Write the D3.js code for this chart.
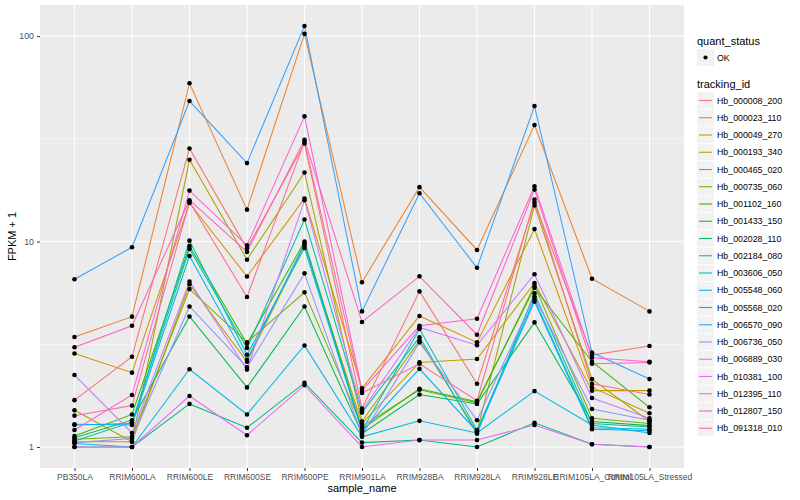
<!DOCTYPE html>
<html>
<head>
<meta charset="utf-8">
<script src="https://cdn.jsdelivr.net/npm/d3@7"></script>
<style>
  body { margin: 0; background: #fff; }
  text { font-family: "Liberation Sans", Arial, sans-serif; }
</style>
</head>
<body>
<div id="chart-area"></div>
<script>
// samples on the x axis
const samples = ["PB350LA", "RRIM600LA", "RRIM600LE", "RRIM600SE", "RRIM600PE", "RRIM901LA",
  "RRIM928BA", "RRIM928LA", "RRIM928LE", "RRIM105LA_Control", "RRIM105LA_Stressed"]

const trackingIds = ["Hb_000008_200", "Hb_000023_110", "Hb_000049_270", "Hb_000193_340", "Hb_000465_020",
  "Hb_000735_060", "Hb_001102_160", "Hb_001433_150", "Hb_002028_110", "Hb_002184_080",
  "Hb_003606_050", "Hb_005548_060", "Hb_005568_020", "Hb_006570_090", "Hb_006736_050",
  "Hb_006889_030", "Hb_010381_100", "Hb_012395_110", "Hb_012807_150", "Hb_091318_010"]

// FPKM + 1, one row per tracking id, in sample order
const fpkm = [
  [1.69, 2.75, 28.4, 9.24, 30.0, 1.54, 5.72, 2.03, 15.5, 2.80, 3.10],
  [3.43, 4.31, 59.0, 14.3, 102.6, 6.34, 18.4, 9.1, 36.9, 6.59, 4.57],
  [2.85, 2.30, 15.4, 6.76, 16.2, 1.93, 4.34, 3.23, 11.5, 1.95, 1.46],
  [1.06, 1.06, 6.2, 2.60, 9.6, 1.30, 2.58, 2.68, 6.28, 1.88, 1.88],
  [1.51, 1.06, 25.0, 8.16, 21.7, 1.33, 3.30, 1.19, 15.0, 2.14, 1.33],
  [1.09, 1.12, 5.87, 3.23, 5.66, 1.26, 1.90, 1.64, 6.1, 1.38, 1.30],
  [1.13, 1.44, 9.5, 3.18, 10.0, 1.22, 1.92, 1.66, 5.95, 2.60, 1.56],
  [1.11, 1.35, 4.32, 1.95, 4.83, 1.16, 1.80, 1.62, 4.04, 1.33, 1.27],
  [1.0, 1.0, 1.62, 1.24, 2.05, 1.05, 1.08, 1.0, 1.31, 1.03, 1.0],
  [1.07, 1.32, 9.2, 3.03, 12.8, 1.47, 3.42, 1.16, 5.6, 1.30, 1.25],
  [1.28, 1.30, 10.1, 2.81, 9.3, 1.20, 3.75, 1.21, 5.25, 1.24, 1.22],
  [1.04, 1.0, 2.39, 1.44, 3.12, 1.12, 1.34, 1.17, 1.87, 1.28, 1.17],
  [1.29, 1.28, 8.5, 2.66, 9.8, 1.19, 2.40, 1.19, 5.1, 1.22, 1.20],
  [6.55, 9.38, 48.3, 24.1, 112, 4.57, 17.2, 7.45, 45.7, 2.88, 2.14],
  [1.05, 1.10, 4.83, 2.44, 7.0, 1.14, 3.23, 1.35, 5.4, 1.53, 1.35],
  [2.24, 1.17, 6.38, 2.38, 15.9, 1.50, 3.82, 3.13, 6.93, 1.73, 1.38],
  [1.0, 1.0, 1.77, 1.14, 2.0, 1.0, 1.08, 1.08, 1.28, 1.03, 1.0],
  [1.21, 1.79, 17.7, 9.58, 40.7, 1.88, 3.89, 4.21, 18.6, 2.72, 2.60],
  [3.06, 3.89, 15.9, 8.9, 31.3, 4.06, 6.77, 3.52, 17.9, 2.54, 2.58],
  [1.42, 1.59, 15.6, 5.37, 30.7, 1.83, 2.54, 1.68, 16.0, 2.03, 1.80]
]

const yTicks = [1, 10, 100]
const yMinor = [Math.sqrt(10), Math.sqrt(1000)]

// ggplot default hue palette for 20 levels
const palette = ["#F8766D", "#EA8331", "#D89000", "#C09B00", "#A3A500", "#7CAE00", "#39B600",
  "#00BB4E", "#00BF7D", "#00C1A3", "#00BFC4", "#00BAE0", "#00B0F6", "#35A2FF", "#9590FF",
  "#C77CFF", "#E76BF3", "#FA62DB", "#FF62BC", "#FF6C91"]

const MARGIN = {LEFT: 40, TOP: 5, RIGHT: 116, BOTTOM: 32}
const WIDTH = 800 - MARGIN.LEFT - MARGIN.RIGHT
const HEIGHT = 500 - MARGIN.TOP - MARGIN.BOTTOM

const svg = d3.select("#chart-area").append("svg")
    .attr("width", 800)
    .attr("height", 500)

const g = svg.append("g")
    .attr("transform", `translate(${MARGIN.LEFT}, ${MARGIN.TOP})`)

// scales
const x = d3.scalePoint()
    .domain(samples)
    .range([0, WIDTH])
    .padding(0.6)

const all = fpkm.flat()
const lo = Math.log10(d3.min(all)), hi = Math.log10(d3.max(all))
const pad = (hi - lo) * 0.05
const y = d3.scaleLog()
    .domain([Math.pow(10, lo - pad), Math.pow(10, hi + pad)])
    .range([HEIGHT, 0])

const color = d3.scaleOrdinal().domain(trackingIds).range(palette)

// panel + grid
g.append("rect")
    .attr("width", WIDTH)
    .attr("height", HEIGHT)
    .attr("fill", "#EBEBEB")

g.selectAll(".minor")
    .data(yMinor)
    .enter().append("line")
    .attr("x1", 0).attr("x2", WIDTH)
    .attr("y1", d => y(d)).attr("y2", d => y(d))
    .attr("stroke", "#fff").attr("stroke-width", 0.55)

g.selectAll(".hgrid")
    .data(yTicks)
    .enter().append("line")
    .attr("x1", 0).attr("x2", WIDTH)
    .attr("y1", d => y(d)).attr("y2", d => y(d))
    .attr("stroke", "#fff").attr("stroke-width", 1.1)

g.selectAll(".vgrid")
    .data(samples)
    .enter().append("line")
    .attr("x1", d => x(d)).attr("x2", d => x(d))
    .attr("y1", 0).attr("y2", HEIGHT)
    .attr("stroke", "#fff").attr("stroke-width", 1.1)

// lines
const line = d3.line()
    .x((d, i) => x(samples[i]))
    .y(d => y(d))

g.selectAll(".series")
    .data(fpkm)
    .enter().append("path")
    .attr("class", "series")
    .attr("d", line)
    .attr("fill", "none")
    .attr("stroke", (d, i) => color(trackingIds[i]))
    .attr("stroke-width", 1.05)

// points
g.selectAll(".pt")
    .data(fpkm.flatMap(row => row.map((v, i) => ({s: samples[i], v: v}))))
    .enter().append("circle")
    .attr("cx", d => x(d.s))
    .attr("cy", d => y(d.v))
    .attr("r", 2.3)
    .attr("fill", "#000")

// axes
const xAxis = g.append("g")
    .attr("transform", `translate(0, ${HEIGHT})`)
    .call(d3.axisBottom(x).tickSize(3).tickPadding(3))
xAxis.select(".domain").remove()
xAxis.selectAll("line").attr("stroke", "#333")
xAxis.selectAll("text").attr("fill", "#4D4D4D").attr("font-size", "8.5px")

const yAxis = g.append("g")
    .call(d3.axisLeft(y).tickValues(yTicks).tickFormat(d3.format("d")).tickSize(3).tickPadding(3))
yAxis.select(".domain").remove()
yAxis.selectAll("line").attr("stroke", "#333")
yAxis.selectAll("text").attr("fill", "#4D4D4D").attr("font-size", "8.8px")

// axis titles
svg.append("text")
    .attr("x", MARGIN.LEFT + WIDTH / 2)
    .attr("y", 492)
    .attr("text-anchor", "middle")
    .attr("font-size", "11px")
    .text("sample_name")

svg.append("text")
    .attr("transform", `translate(16, ${MARGIN.TOP + HEIGHT / 2}) rotate(-90)`)
    .attr("text-anchor", "middle")
    .attr("font-size", "11px")
    .text("FPKM + 1")

// legends
const lg = svg.append("g").attr("transform", "translate(697, 0)")

lg.append("text").attr("x", 0).attr("y", 45).attr("font-size", "11px").text("quant_status")
lg.append("rect").attr("x", 0).attr("y", 49).attr("width", 17).attr("height", 17).attr("fill", "#F2F2F2")
lg.append("circle").attr("cx", 8.5).attr("cy", 57.5).attr("r", 2.1).attr("fill", "#000")
lg.append("text").attr("x", 20).attr("y", 60.5).attr("font-size", "8.8px").text("OK")

lg.append("text").attr("x", 0).attr("y", 88).attr("font-size", "11px").text("tracking_id")

const keys = lg.selectAll(".key")
    .data(trackingIds)
    .enter().append("g")
    .attr("transform", (d, i) => `translate(0, ${92 + i * 17.25})`)

keys.append("rect")
    .attr("width", 17).attr("height", 17)
    .attr("fill", "#F2F2F2").attr("stroke", "#fff").attr("stroke-width", 0.5)
keys.append("line")
    .attr("x1", 2).attr("x2", 15).attr("y1", 8.5).attr("y2", 8.5)
    .attr("stroke", d => color(d)).attr("stroke-width", 1.1)
keys.append("text")
    .attr("x", 20).attr("y", 11.5)
    .attr("font-size", "8.8px")
    .text(d => d)
</script>
</body>
</html>
